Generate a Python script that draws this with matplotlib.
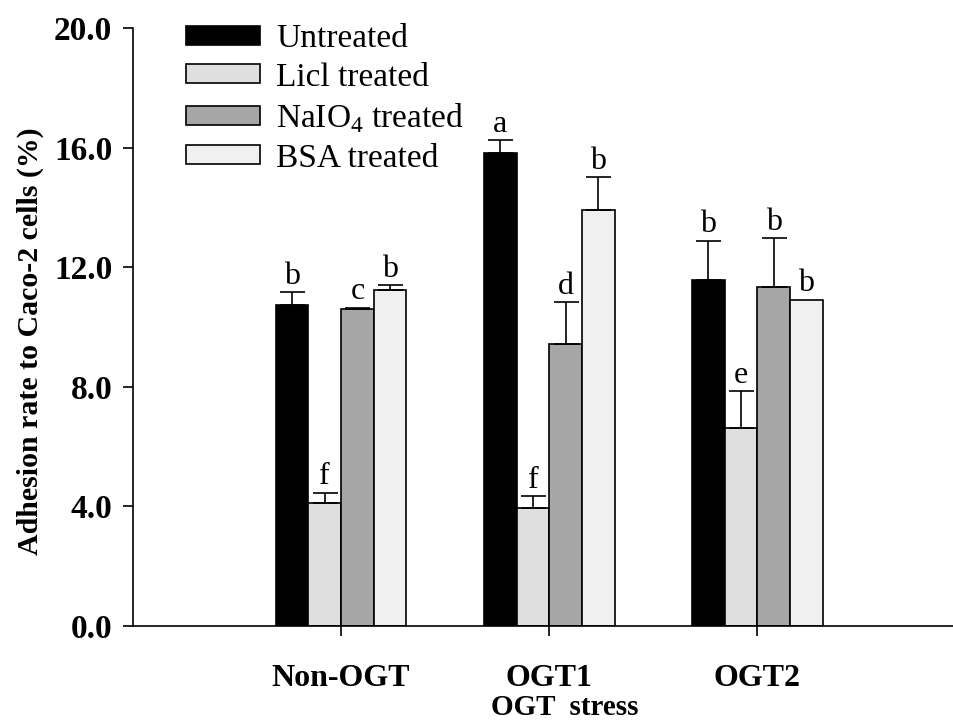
import numpy as np
import matplotlib
matplotlib.use("Agg")
import matplotlib.pyplot as plt

plt.rcParams['font.family'] = ['Liberation Serif', 'DejaVu Serif']
plt.rcParams['mathtext.fontset'] = 'custom'
plt.rcParams['mathtext.rm'] = 'Liberation Serif'

groups = ["Non-OGT", "OGT1", "OGT2"]
treatments = ["Untreated", "Licl treated", "NaIO$_4$ treated", "BSA treated"]
colors = ["#000000", "#dfdfdf", "#a6a6a6", "#f0f0f0"]

untreated = [10.73, 15.83, 11.57]
licl = [4.10, 3.96, 6.61]
naio4 = [10.60, 9.42, 11.33]
bsa = [11.23, 13.91, 10.91]

untreated_err = [0.43, 0.41, 1.32]
licl_err = [0.36, 0.39, 1.24]
naio4_err = [0.05, 1.42, 1.65]
bsa_err = [0.18, 1.11, 0.0]

untreated_sig = ["b", "a", "b"]
licl_sig = ["f", "f", "e"]
naio4_sig = ["c", "d", "b"]
bsa_sig = ["b", "b", "b"]

values = [untreated, licl, naio4, bsa]
errors = [untreated_err, licl_err, naio4_err, bsa_err]
letters = [untreated_sig, licl_sig, naio4_sig, bsa_sig]

fig = plt.figure(figsize=(9.54, 7.2), dpi=100)
# axes runs off the right edge like the original
ax = fig.add_axes([133 / 954, 1 - 626 / 720, 872 / 954, 598 / 720])

x = np.arange(1, len(groups) + 1)
width = 0.157

for i in range(4):
    pos = x + (i - 1.5) * width
    ax.bar(pos, values[i], width, color=colors[i], edgecolor='black',
           linewidth=1.2, label=treatments[i], zorder=2)
    errs = np.array(errors[i])
    shown = errs > 0
    ax.errorbar(pos[shown], np.array(values[i])[shown],
                yerr=[np.zeros(shown.sum()), errs[shown]],
                fmt='none', ecolor='black', elinewidth=1.2, capsize=9,
                capthick=1.2, zorder=3)
    for p, v, e, s in zip(pos, values[i], errors[i], letters[i]):
        ax.annotate(s, (p, v + e), xytext=(0, 6), textcoords='offset points',
                    ha='center', va='baseline', fontsize=23)

ax.set_xlim(0, 4.19)
ax.set_ylim(0, 20)
ax.set_yticks([0, 4, 8, 12, 16, 20])
ax.set_yticklabels(["0.0", "4.0", "8.0", "12.0", "16.0", "20.0"],
                   fontsize=24, fontweight='bold')
ax.set_xticks(x)
ax.set_xticklabels(groups, fontsize=23, fontweight='bold')
ax.tick_params(axis='both', direction='out', length=7, width=1.2)
ax.tick_params(axis='x', pad=20)
ax.tick_params(axis='y', pad=8)

for side in ['top', 'right']:
    ax.spines[side].set_visible(False)
for side in ['left', 'bottom']:
    ax.spines[side].set_linewidth(1.2)

ax.set_ylabel("Adhesion rate to Caco-2 cells (%)", fontsize=21.5,
              fontweight='bold')
ax.yaxis.set_label_coords(-0.102, 0.477)
ax.set_xlabel("OGT  stress", fontsize=21, fontweight='bold')
ax.xaxis.set_label_coords(0.495, -0.113)

ax.legend(loc='upper left', bbox_to_anchor=(0.046, 1.03), frameon=False,
          fontsize=24, handlelength=2.2, handleheight=0.5,
          handletextpad=0.5, labelspacing=0.25, borderaxespad=0)

plt.savefig("out.png", dpi=100)
